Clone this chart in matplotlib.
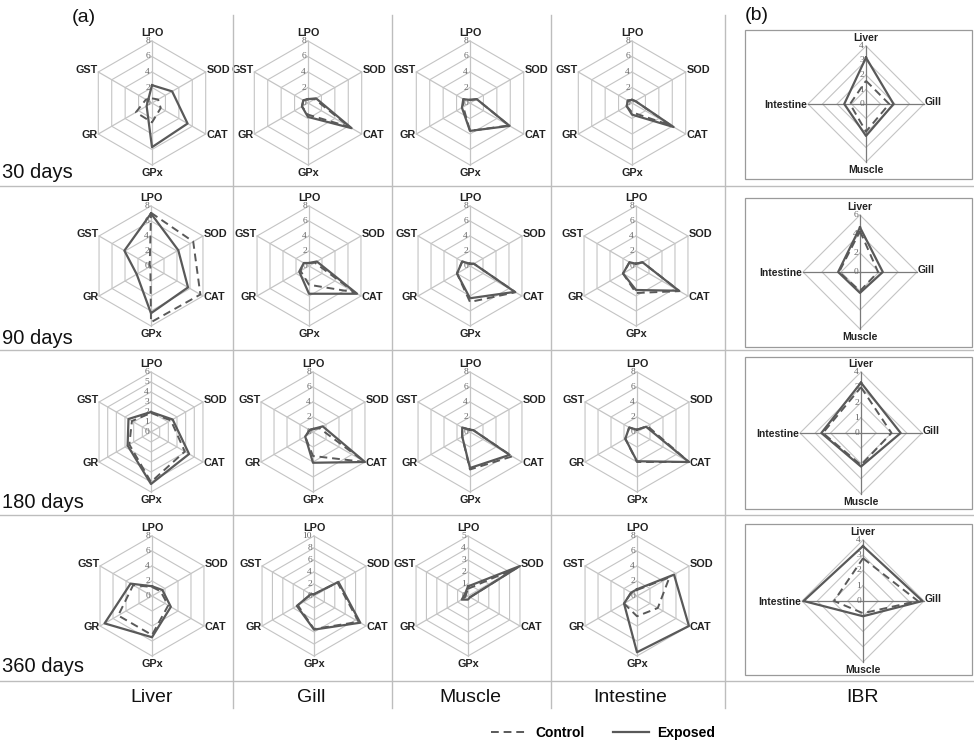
import numpy as np
import matplotlib
matplotlib.use("Agg")
import matplotlib.pyplot as plt

plt.rcParams['font.family'] = ['Liberation Sans', 'DejaVu Sans']

# ---------------- data ----------------
biomarkers = ['LPO', 'SOD', 'CAT', 'GPx', 'GR', 'GST']
organs = ['Liver', 'Gill', 'Muscle', 'Intestine']
days = ['30 days', '90 days', '180 days', '360 days']
ibr_axes = ['Liver', 'Gill', 'Muscle', 'Intestine']

# values per time point (30, 90, 180, 360 days), order LPO, SOD, CAT, GPx, GR, GST
liver_control = [[0.6, 0.9, 1.3, 2.5, 2.4, 0.9],
                 [7.1, 6.5, 7.6, 7.5, 0.1, 0.2],
                 [1.9, 2.3, 3.9, 5.0, 2.5, 2.2],
                 [1.2, 1.3, 2.5, 5.2, 5.2, 2.9]]
liver_exposed = [[2.3, 3.0, 5.3, 5.7, 0.8, 0.6],
                 [7.0, 4.2, 5.7, 6.3, 2.2, 4.1],
                 [2.0, 2.5, 4.4, 5.2, 2.7, 2.6],
                 [1.3, 1.6, 2.9, 5.5, 7.3, 3.3]]
gill_control = [[0.5, 1.0, 6.2, 1.5, 0.9, 0.7],
                [0.4, 0.9, 7.0, 2.5, 1.3, 0.8],
                [0.4, 1.0, 8.0, 3.2, 1.2, 0.5],
                [0.3, 4.5, 8.6, 5.5, 3.1, 0.6]]
gill_exposed = [[0.5, 1.2, 6.5, 1.8, 0.9, 0.7],
                [0.4, 1.2, 7.4, 3.7, 1.5, 0.8],
                [0.4, 1.5, 8.0, 4.1, 1.2, 0.5],
                [0.3, 4.7, 8.9, 5.6, 3.3, 0.6]]
muscle_control = [[0.4, 1.0, 5.8, 3.6, 1.0, 1.0],
                  [0.3, 0.6, 7.0, 4.8, 2.0, 1.2],
                  [0.3, 0.5, 6.5, 5.0, 1.2, 1.2],
                  [0.6, 4.7, 0.2, 0.2, 0.3, 0.2]]
muscle_exposed = [[0.4, 1.0, 5.9, 3.6, 1.2, 1.0],
                  [0.3, 0.6, 6.9, 4.3, 2.0, 1.2],
                  [0.3, 0.5, 6.1, 4.8, 1.2, 1.2],
                  [0.8, 5.0, 0.2, 0.3, 0.6, 0.3]]
intestine_control = [[0.4, 0.5, 5.8, 1.2, 0.8, 0.6],
                     [0.3, 1.0, 6.7, 3.6, 2.0, 1.0],
                     [0.3, 1.6, 8.0, 4.0, 1.8, 1.2],
                     [0.8, 5.0, 3.2, 2.7, 2.0, 0.9]]
intestine_exposed = [[0.4, 0.5, 6.2, 1.5, 0.8, 0.6],
                     [0.3, 1.0, 6.6, 3.2, 2.0, 1.0],
                     [0.3, 1.4, 8.0, 3.9, 1.8, 1.2],
                     [0.9, 5.7, 8.0, 7.5, 2.0, 0.9]]
# IBR: Liver, Gill, Muscle, Intestine
ibr_control = [[1.6, 1.6, 1.9, 1.1],
               [4.3, 1.9, 2.0, 2.2],
               [3.0, 2.0, 2.1, 2.5],
               [2.8, 3.6, 0.8, 1.9]]
ibr_exposed = [[3.2, 1.9, 2.2, 1.5],
               [4.7, 2.4, 2.2, 2.3],
               [3.3, 2.6, 2.2, 2.6],
               [3.6, 3.9, 1.0, 3.9]]

# axis scales (max, step) per organ per time point
liver_scale = [(8, 2), (8, 2), (6, 1), (8, 2)]
gill_scale = [(8, 2), (8, 2), (8, 2), (10, 2)]
muscle_scale = [(8, 2), (8, 2), (8, 2), (5, 1)]
intestine_scale = [(8, 2), (8, 2), (8, 2), (8, 2)]
ibr_scale = [(4, 1), (6, 2), (4, 1), (4, 1)]

control_data = [liver_control, gill_control, muscle_control, intestine_control]
exposed_data = [liver_exposed, gill_exposed, muscle_exposed, intestine_exposed]
scales = [liver_scale, gill_scale, muscle_scale, intestine_scale]

# ---------------- layout ----------------
W, H = 974, 743
fig = plt.figure(figsize=(W / 100, H / 100), dpi=100)

row_cy = [103, 266, 432, 596]
row_r = [62, 60, 60, 60]
col_cx = [[152, 308, 470, 632],
          [151, 309, 470, 636],
          [151, 313, 470, 637],
          [152, 314, 468, 637]]
ibr_c = [(866, 104, 58), (860, 272, 57), (861, 433, 61), (863, 601, 61)]

GRID = '#c4c4c4'
LINE = '#595959'
handles = {}


def radar(cx, cy, rpx, labels, ctrl, expo, vmax, step, ibr=False):
    ax = fig.add_axes([(cx - rpx) / W, 1 - (cy + rpx) / H, 2 * rpx / W, 2 * rpx / H],
                      projection='polar')
    ax.set_theta_zero_location('N')
    ax.set_theta_direction(-1)
    ax.set_ylim(0, vmax)
    ax.axis('off')
    n = len(labels)
    th = np.linspace(0, 2 * np.pi, n, endpoint=False)
    thc = np.append(th, th[0])
    rings = np.arange(step, vmax + step / 2, step)
    for v in rings:
        ax.plot(thc, [v] * (n + 1), color=GRID, lw=0.8, clip_on=False, zorder=1)
    spoke_col = '#7a7a7a' if ibr else GRID
    for t in th:
        ax.plot([t, t], [0, vmax], color=spoke_col, lw=0.9, clip_on=False, zorder=1)
    # tick labels
    for v in np.concatenate([[0], rings]):
        ax.annotate(f'{v:g}', xy=(0, v), xytext=(-1.5, 0), textcoords='offset points',
                    ha='right', va='center', fontsize=6.8, color='#666666',
                    family='Liberation Serif', zorder=2)
    c = np.append(ctrl, ctrl[0])
    e = np.append(expo, expo[0])
    lc, = ax.plot(thc, c, color=LINE, lw=1.4, ls=(0, (4, 2.5)), clip_on=False, zorder=3)
    le, = ax.plot(thc, e, color=LINE, lw=1.6, clip_on=False, zorder=4)
    handles['Control'] = lc
    handles['Exposed'] = le
    # category labels
    fs = 7.5 if ibr else 7.8
    for t, lab in zip(th, labels):
        s, co = np.sin(t), np.cos(t)
        if abs(s) < 1e-6:
            ha = 'center'
            va = 'bottom' if co > 0 else 'top'
            off = (0, 2.5 if co > 0 else -2.5)
        else:
            ha = 'left' if s > 0 else 'right'
            va = 'center'
            off = (0.5 if s > 0 else -0.5, 1.5 if co > 0 else -1)
        ax.annotate(lab, xy=(t, vmax), xytext=off, textcoords='offset points',
                    ha=ha, va=va, fontsize=fs, fontweight='bold', color='#222222',
                    annotation_clip=False)
    return ax


for i in range(4):
    for j in range(4):
        vmax, step = scales[j][i]
        radar(col_cx[i][j], row_cy[i], row_r[i], biomarkers,
              control_data[j][i], exposed_data[j][i], vmax, step)
    cx, cy, rr = ibr_c[i]
    vmax, step = ibr_scale[i]
    radar(cx, cy, rr, ibr_axes, ibr_control[i], ibr_exposed[i], vmax, step, ibr=True)

# IBR boxes
box_y = [(30, 179), (198, 347), (357, 509), (524, 675)]
for (y0, y1) in box_y:
    rect = plt.Rectangle((745 / W, 1 - y1 / H), (972 - 745) / W, (y1 - y0) / H,
                         transform=fig.transFigure, fill=False, ec='#9a9a9a', lw=0.9)
    fig.patches.append(rect)

# separators
SEP = '#bdbdbd'
for x in [233, 392, 551, 725]:
    fig.add_artist(plt.Line2D([x / W, x / W], [1 - 15 / H, 1 - 708 / H],
                              transform=fig.transFigure, color=SEP, lw=1.0))
for y in [186, 350, 515, 681]:
    fig.add_artist(plt.Line2D([0, 1], [1 - y / H, 1 - y / H],
                              transform=fig.transFigure, color=SEP, lw=1.0))

# row labels
for lab, y in zip(days, [172, 338, 503, 667]):
    fig.text(2 / W, 1 - y / H, lab, ha='left', va='center', fontsize=14.5, color='#111111')
# column labels
for lab, x in zip(organs + ['IBR'], [152, 311, 470, 630, 862]):
    fig.text(x / W, 1 - 697 / H, lab, ha='center', va='center', fontsize=14, color='#111111')

fig.text(84 / W, 1 - 18 / H, '(a)', ha='center', va='center', fontsize=14, color='#111111')
fig.text(757 / W, 1 - 15 / H, '(b)', ha='center', va='center', fontsize=14, color='#111111')

fig.legend([handles['Control'], handles['Exposed']], ['Control', 'Exposed'],
           loc='center', bbox_to_anchor=(603 / W, 1 - 733 / H), ncol=2, frameon=False,
           prop={'weight': 'bold', 'size': 10}, handlelength=2.6, columnspacing=2.0,
           handletextpad=0.6)

fig.savefig('out.png', dpi=100)
